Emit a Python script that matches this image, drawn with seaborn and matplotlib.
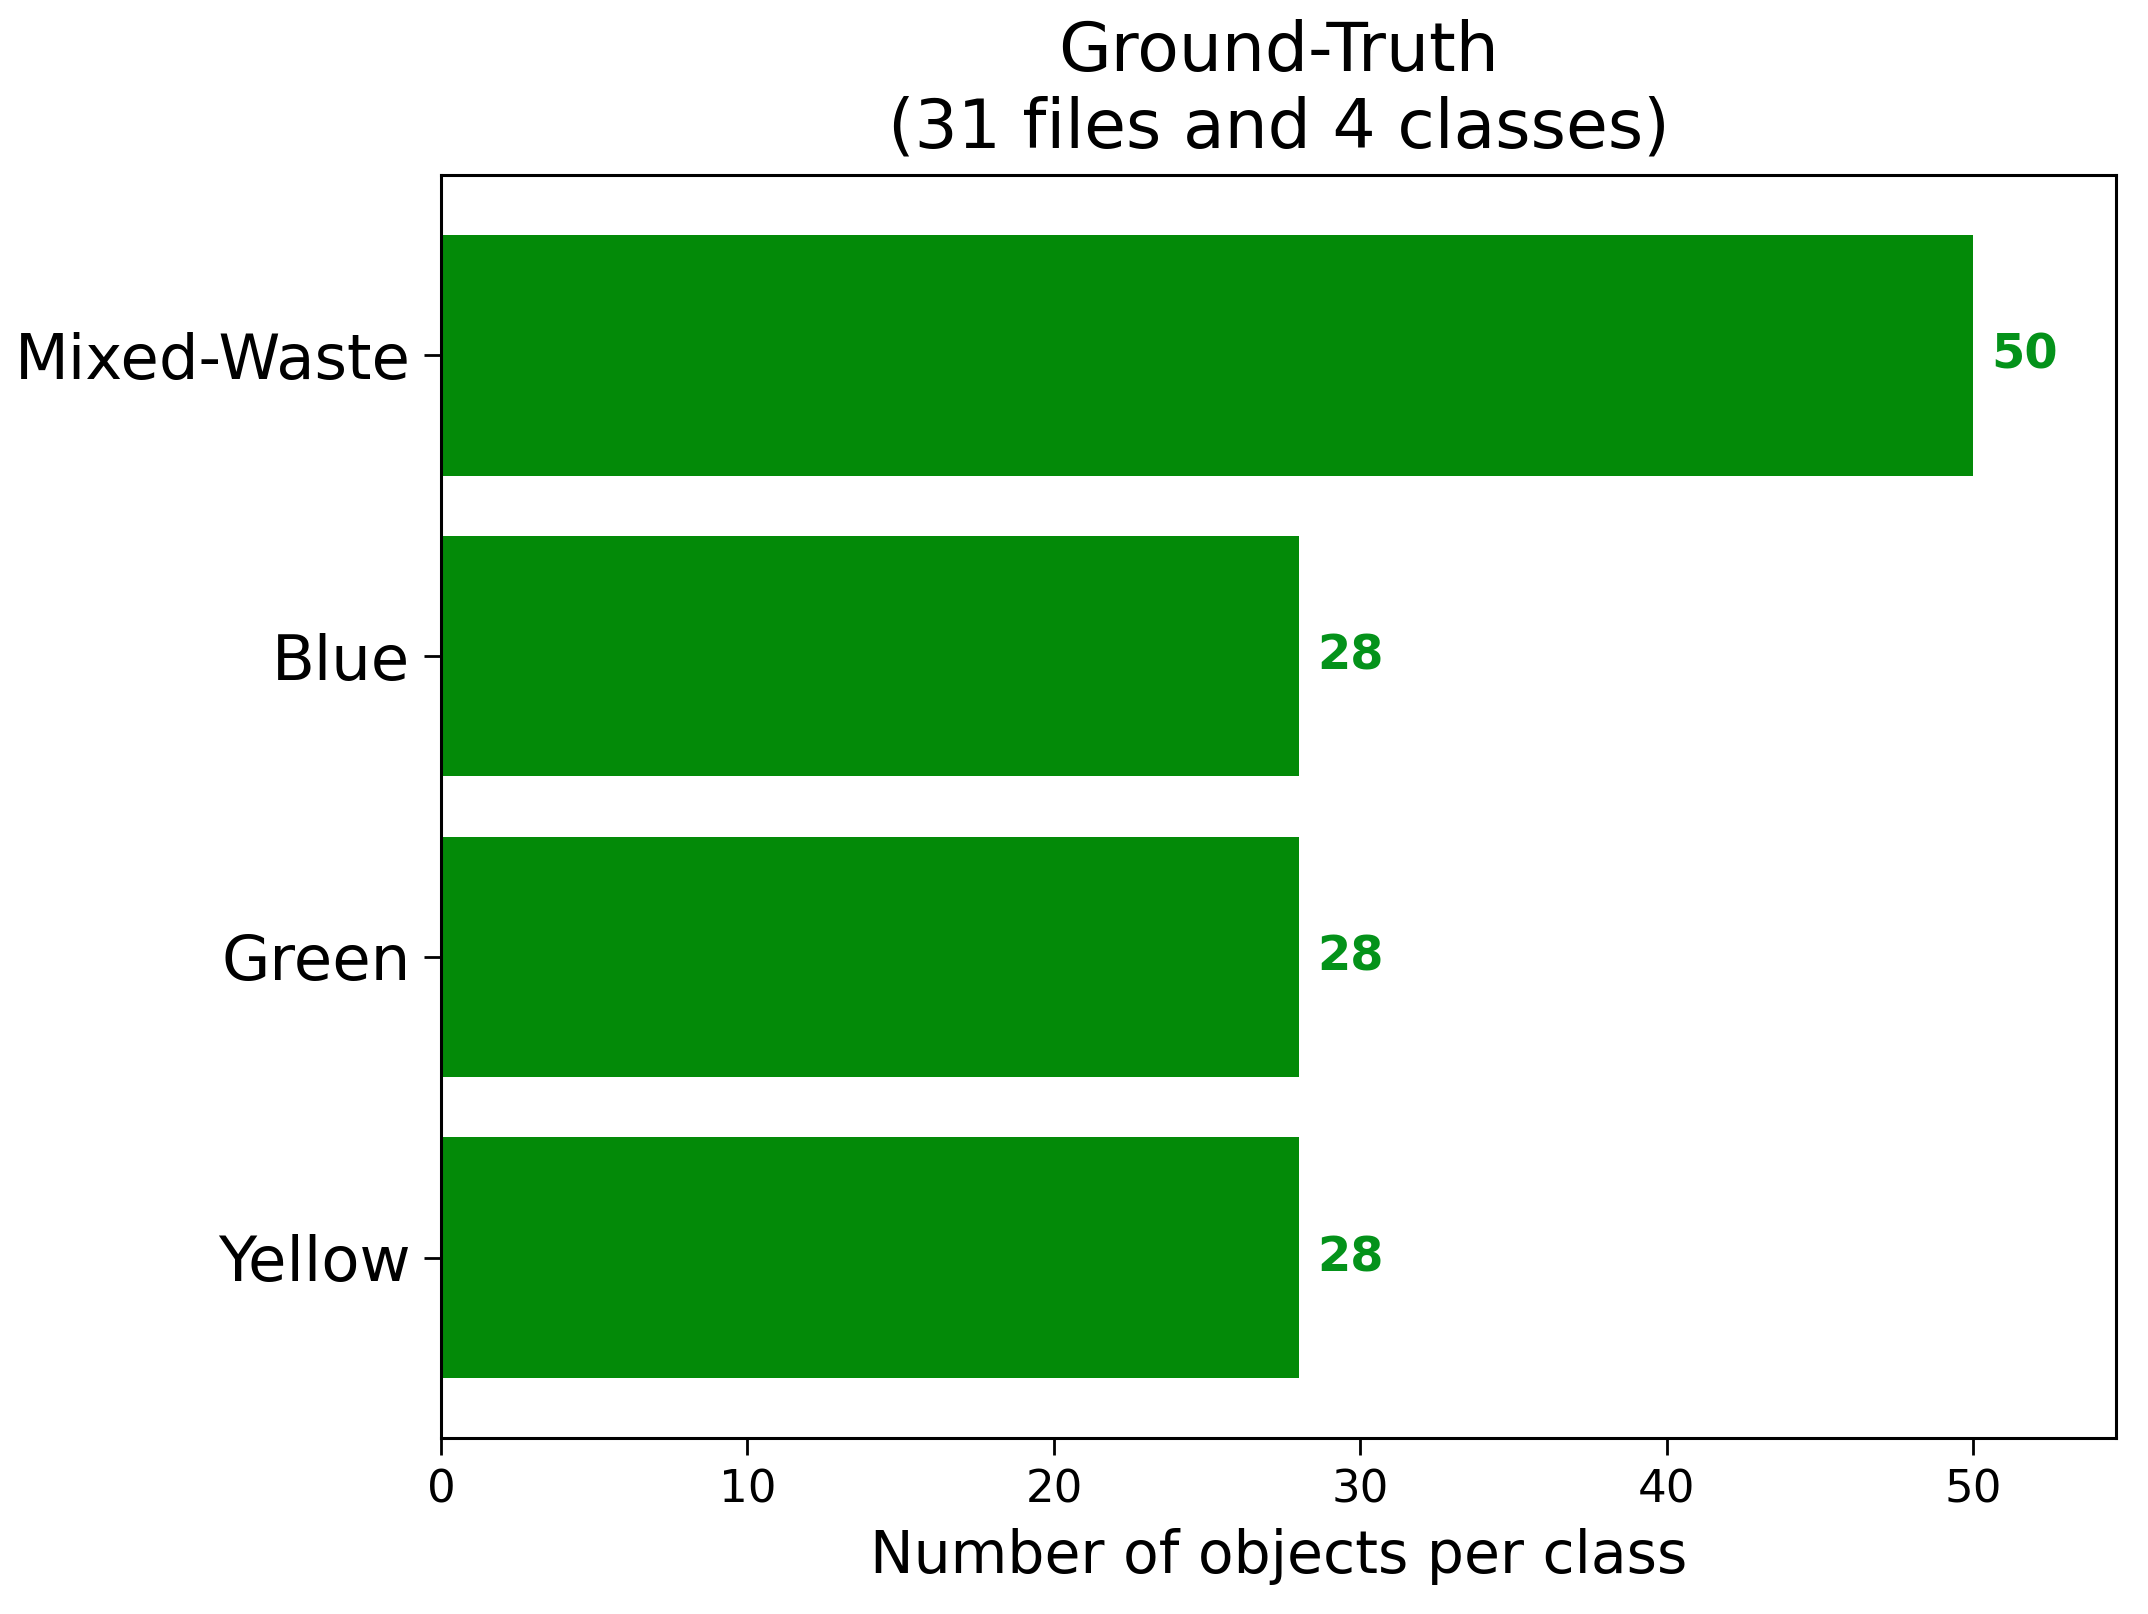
import matplotlib
matplotlib.use("Agg")
import matplotlib.pyplot as plt
import pandas as pd
import seaborn as sns

classes = ["Mixed-Waste", "Blue", "Green", "Yellow"]
counts = [50, 28, 28, 28]
x_ticks = [0, 10, 20, 30, 40, 50]

BAR_COLOR = "#038a08"
TEXT_COLOR = "#04921a"

sns.set_style("ticks")
plt.rcParams["font.family"] = ["DejaVu Sans"]
plt.rcParams["text.color"] = "black"
plt.rcParams["axes.labelcolor"] = "black"
plt.rcParams["xtick.color"] = "black"
plt.rcParams["ytick.color"] = "black"

df = pd.DataFrame({"cls": classes, "n": counts})

fig, ax = plt.subplots(figsize=(21.48, 16.14), dpi=100)
fig.subplots_adjust(left=0.2053, right=0.9851, top=0.8916, bottom=0.1090)

sns.barplot(data=df, x="n", y="cls", orient="h", color=BAR_COLOR,
            saturation=1, width=0.8, linewidth=0, ax=ax)

# value labels just past the end of each bar
for i, v in enumerate(counts):
    ax.annotate(str(v), xy=(v, i), xytext=(13, 0), textcoords="offset points",
                va="center", ha="left", color=TEXT_COLOR,
                fontsize=34.5, fontweight="bold")

ax.set_xlim(0, 54.65)
ax.set_ylim(len(classes) - 0.4, -0.6)
ax.set_xticks(x_ticks)
ax.set_title("Ground-Truth\n(31 files and 4 classes)", fontsize=49, pad=20, color="black")
ax.set_xlabel("Number of objects per class", fontsize=42, labelpad=12)
ax.set_ylabel("")
ax.tick_params(axis="x", labelsize=32.5, length=12, width=2, pad=10, colors="black")
ax.tick_params(axis="y", labelsize=45, length=12, width=2, pad=10, colors="black")
for sp in ax.spines.values():
    sp.set_visible(True)
    sp.set_linewidth(2.2)
    sp.set_color("black")

fig.savefig("out.png", dpi=100)
